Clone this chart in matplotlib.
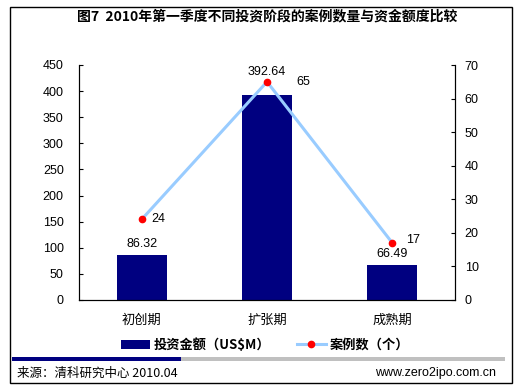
import matplotlib
matplotlib.use("Agg")
import matplotlib.pyplot as plt
from matplotlib.patches import Rectangle

plt.rcParams['font.family'] = ['Liberation Sans', 'Noto Sans CJK SC', 'DejaVu Sans']

# data
stages = ['初创期', '扩张期', '成熟期']
amount = [86.32, 392.64, 66.49]     # 投资金额 US$M
cases = [24, 65, 17]                # 案例数

W, H = 520, 389
fig = plt.figure(figsize=(W / 100, H / 100), dpi=100)

def fx(px):
    return px / W

def fy(py):
    return 1 - py / H

ax = fig.add_axes([fx(79), fy(300), fx(455) - fx(79), fy(65) - fy(300)])
ax2 = ax.twinx()

x = list(range(len(stages)))
bars = ax.bar(x, amount, width=0.4, color='#000080', zorder=2, label='投资金额（US$M）')
ax.set_xlim(-0.5, 2.5)
ax.set_ylim(0, 450)
ax.set_yticks(range(0, 451, 50))
ax.set_xticks(x)
ax.set_xticklabels(stages, fontsize=9.5, family=['Noto Sans CJK SC'])
ax.tick_params(axis='x', length=0, pad=10)
ax.tick_params(axis='y', direction='in', length=3, width=0.8, pad=11, labelsize=9)

line, = ax2.plot(x, cases, color='#99CCFF', lw=2.2, marker='o', ms=4.5,
                 mfc='red', mec='red', zorder=3, label='案例数（个）')
ax2.set_ylim(0, 70)
ax2.set_yticks(range(0, 71, 10))
ax2.tick_params(axis='y', direction='in', length=3, width=0.8, pad=7, labelsize=9)

for a in (ax, ax2):
    a.spines['top'].set_visible(False)
    for s in ('left', 'right', 'bottom'):
        a.spines[s].set_linewidth(0.8)
        a.spines[s].set_color('black')

# bar value labels
bar_off = [11, 23, 11]
for xi, v, o in zip(x, amount, bar_off):
    ax.annotate(f'{v:.2f}', (xi, v), xytext=(0, o), textcoords='offset pixels',
                ha='center', va='center', fontsize=9)

# line value labels
line_off = [(17, 0), (36, 0), (21, 3)]
for xi, v, (dx, dy) in zip(x, cases, line_off):
    ax2.annotate(str(v), (xi, v), xytext=(dx, dy), textcoords='offset pixels',
                 ha='center', va='center', fontsize=9)

# title
fig.text(fx(267), fy(16), '图7  2010年第一季度不同投资阶段的案例数量与资金额度比较',
         ha='center', va='center', fontsize=10, fontweight='bold',
         family=['Noto Sans CJK SC'])

# legend
leg = fig.legend([bars, line], ['投资金额（US$M）', '案例数（个）'], ncol=2,
                 loc='center', bbox_to_anchor=(fx(265), fy(345)), frameon=False,
                 prop={'family': ['Noto Sans CJK SC'], 'weight': 'bold', 'size': 9.5},
                 handlelength=2.2, handletextpad=0.3, columnspacing=2.0)

# divider bar
fig.add_artist(Rectangle((fx(12), fy(361)), fx(181) - fx(12), fy(357) - fy(361),
                         transform=fig.transFigure, color='#000080', lw=0))
fig.add_artist(Rectangle((fx(181), fy(361)), fx(505) - fx(181), fy(357) - fy(361),
                         transform=fig.transFigure, color='#C0C0C0', lw=0))

# footer
fig.text(fx(17), fy(373), '来源：清科研究中心 2010.04', ha='left', va='center',
         fontsize=9, family=['Noto Sans CJK SC'])
fig.text(fx(496), fy(373), 'www.zero2ipo.com.cn', ha='right', va='center', fontsize=9)

# outer frame
fig.add_artist(Rectangle((fx(10), fy(383)), fx(512) - fx(10), fy(7) - fy(383),
                         transform=fig.transFigure, fill=False, ec='black', lw=1))

fig.savefig('out.png', dpi=100)
